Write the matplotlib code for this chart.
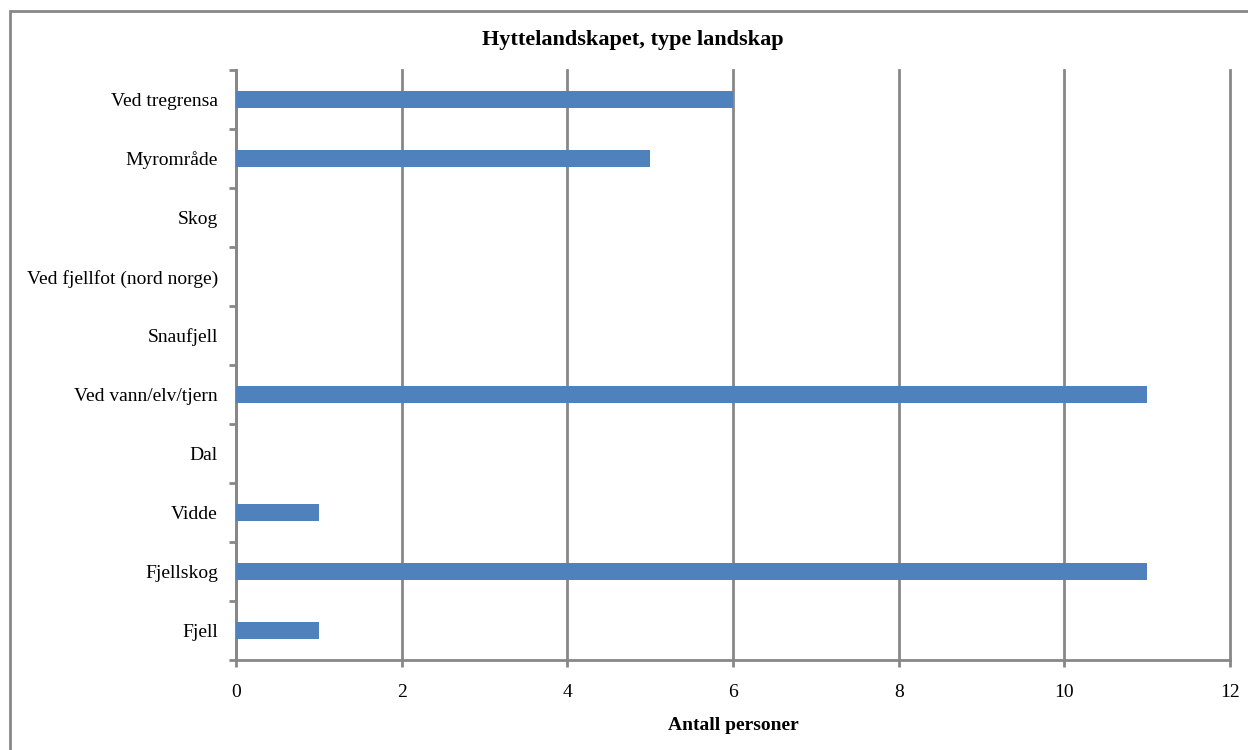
import matplotlib
matplotlib.use("Agg")
import matplotlib.pyplot as plt
from matplotlib.patches import Rectangle

categories = ["Fjell", "Fjellskog", "Vidde", "Dal", "Ved vann/elv/tjern",
              "Snaufjell", "Ved fjellfot (nord norge)", "Skog", "Myrområde", "Ved tregrensa"]
values = [1, 11, 1, 0, 11, 0, 0, 0, 5, 6]
title = "Hyttelandskapet, type landskap"
xlabel = "Antall personer"
xticks = [0, 2, 4, 6, 8, 10, 12]

plt.rcParams['font.family'] = ['Liberation Serif', 'DejaVu Serif']
W, H = 1248, 750
fig = plt.figure(figsize=(W/100, H/100), dpi=100)
ax = fig.add_axes([236/W, 1-660/H, (1230-236)/W, (660-70)/H])

gray = "#878787"
ypos = list(range(len(categories)))
ax.barh(ypos, values, height=0.28, color="#4f81bd", zorder=3)
ax.set_xlim(0, 12)
ax.set_ylim(-0.5, len(categories)-0.5)
ax.set_xticks(xticks)
ax.set_xticklabels([str(t) for t in xticks], fontsize=14)
ax.set_yticks(ypos)
ax.set_yticklabels(categories, fontsize=14)
ax.tick_params(axis='y', length=0, pad=13)
ax.set_yticks([i - 0.5 for i in range(len(categories)+1)], minor=True)
ax.tick_params(axis='y', which='minor', length=5, width=2, color=gray, direction='out')
ax.tick_params(axis='x', length=5, width=2, color=gray, direction='out', pad=12)
ax.grid(axis='x', color=gray, linewidth=2, zorder=0)
for gl in ax.get_xgridlines():
    gl.set_clip_on(False)
for s in ['top', 'right']:
    ax.spines[s].set_visible(False)
for s in ['left', 'bottom']:
    ax.spines[s].set_color(gray)
    ax.spines[s].set_linewidth(2)

fig.text(633/W, 1-40/H, title, ha='center', va='center', fontsize=16, fontweight='bold')
fig.text(733/W, 1-725/H, xlabel, ha='center', va='center', fontsize=14, fontweight='bold')

fig.patches.append(Rectangle((10/W, -0.05), 1.1, 1-11/H+0.05, transform=fig.transFigure,
                             fill=False, edgecolor=gray, linewidth=2))
fig.savefig("out.png", dpi=100)
